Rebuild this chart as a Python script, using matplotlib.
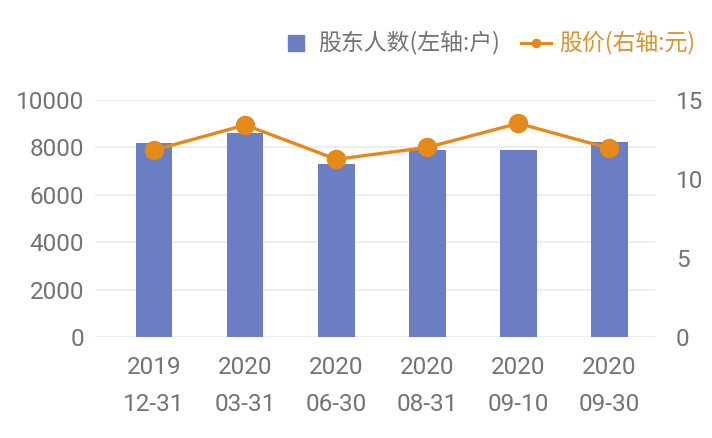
import matplotlib
matplotlib.use("Agg")
import matplotlib.pyplot as plt
from matplotlib.lines import Line2D

# data
dates = ["2019\n12-31", "2020\n03-31", "2020\n06-30", "2020\n08-31", "2020\n09-10", "2020\n09-30"]
holders = [8170, 8590, 7300, 7890, 7890, 8240]
price = [11.83, 13.42, 11.25, 12.0, 13.52, 11.94]

bar_color = "#6b7ec4"
line_color = "#e58a1a"
text_gray = "#737373"
grid_color = "#ebebeb"

plt.rcParams["font.family"] = ["Roboto", "Noto Sans CJK SC", "DejaVu Sans"]

fig = plt.figure(figsize=(7.12, 4.38), dpi=100)
ax = fig.add_axes([95 / 712, 101 / 438, 560 / 712, 237 / 438])
ax2 = ax.twinx()

x = list(range(len(dates)))
ax.bar(x, holders, width=0.4, color=bar_color, zorder=2)
ax2.plot(x, price, color=line_color, lw=2.4, marker="o", ms=13, zorder=3)

ax.set_xlim(-0.65, 5.5)
ax.set_ylim(0, 10000)
ax.set_yticks(range(0, 10001, 2000))
ax2.set_ylim(0, 15)
ax2.set_yticks([0, 5, 10, 15])

ax.grid(axis="y", color=grid_color, lw=1.2, zorder=0)
ax.set_axisbelow(True)
for a in (ax, ax2):
    for s in a.spines.values():
        s.set_visible(False)
    a.tick_params(length=0, labelsize=17.5, colors=text_gray)
ax.tick_params(axis="y", pad=8)
ax2.tick_params(axis="y", pad=15)
ax.tick_params(axis="x", pad=14)
ax.set_xticks(x)
ax.set_xticklabels(dates, linespacing=1.75)
ax2.patch.set_visible(False)

# legend handles: small square for bars, short line with dot for price
h_bar = Line2D([], [], marker="s", ls="none", color=bar_color, ms=11)
h_line = Line2D([], [], marker="o", color=line_color, lw=2.2, ms=6)
leg = fig.legend(handles=[h_bar, h_line], labels=["股东人数(左轴:户)", "股价(右轴:元)"],
                 loc="upper right", bbox_to_anchor=(1.005, 0.975),
                 ncol=2, frameon=False, handlelength=1.3,
                 handletextpad=0.35, columnspacing=0.9,
                 prop={"family": ["Noto Sans CJK SC", "DejaVu Sans"], "size": 16.5})
texts = leg.get_texts()
texts[0].set_color(text_gray)
texts[1].set_color("#d99330")

fig.savefig("out.png", dpi=100)
